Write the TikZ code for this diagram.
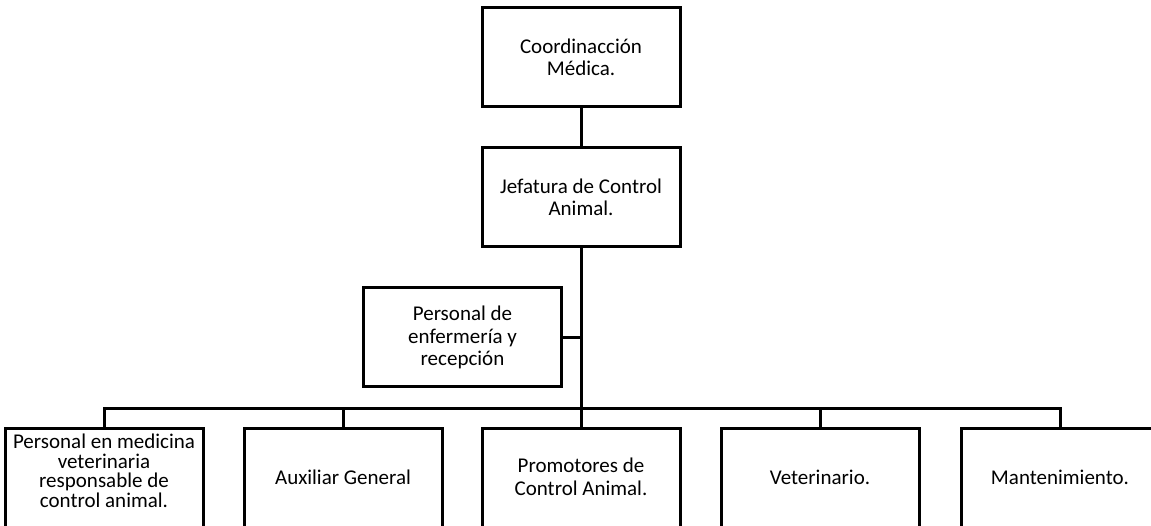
\documentclass[tikz,border=0pt]{standalone}
\usepackage{fontspec}
\setmainfont{Carlito}
\begin{document}
\begin{tikzpicture}[x=1pt,y=-1pt,
  orgbox/.style={draw=black, line width=3pt, fill=white, rectangle,
    minimum width=198pt, minimum height=99pt, inner sep=0pt,
    align=center, font=\fontsize{21}{22.5}\selectfont},
  cutbox/.style={orgbox, minimum height=112pt},
  boxtext/.style={align=center, font=\fontsize{21}{22.5}\selectfont, inner sep=0pt},
  wire/.style={draw=black, line width=3pt}]
  \useasboundingbox (0,0) rectangle (1151,526);
  \fill[white] (0,0) rectangle (1151,526);

  % upper chain
  \node[orgbox] (coord) at (581,57.5) {Coordinacción\\Médica.};
  \node[orgbox] (jef) at (581,197.5) {Jefatura de Control\\Animal.};
  \node[orgbox] (enf) at (462.5,337.5) {Personal de\\enfermería y\\recepción};

  % bottom row (boxes run past the lower edge)
  \node[cutbox, label={[boxtext, yshift=13pt, font=\fontsize{21}{19.5}\selectfont]center:Personal en medicina\\veterinaria\\responsable de\\control animal.}] (vet1) at (104,484) {};
  \node[cutbox, label={[boxtext, yshift=7pt]center:Auxiliar General}] (aux) at (343,484) {};
  \node[cutbox, label={[boxtext, yshift=7pt]center:Promotores de\\Control Animal.}] (prom) at (581,484) {};
  \node[cutbox, label={[boxtext, yshift=7pt]center:Veterinario.}] (vet2) at (820,484) {};
  \node[cutbox, label={[boxtext, yshift=7pt]center:Mantenimiento.}] (mant) at (1060,484) {};

  \coordinate (hub) at (581,408);

  % connectors
  \draw[wire] (coord.south) -- (jef.north);
  \draw[wire] (jef.south) -- (hub);
  \draw[wire] (enf.east) -- (enf.east -| hub);
  \draw[wire] (vet1.north) |- (hub);
  \draw[wire] (aux.north) |- (hub);
  \draw[wire] (prom.north) -- (hub);
  \draw[wire] (vet2.north) |- (hub);
  \draw[wire] (mant.north) |- (hub);
\end{tikzpicture}
\end{document}
